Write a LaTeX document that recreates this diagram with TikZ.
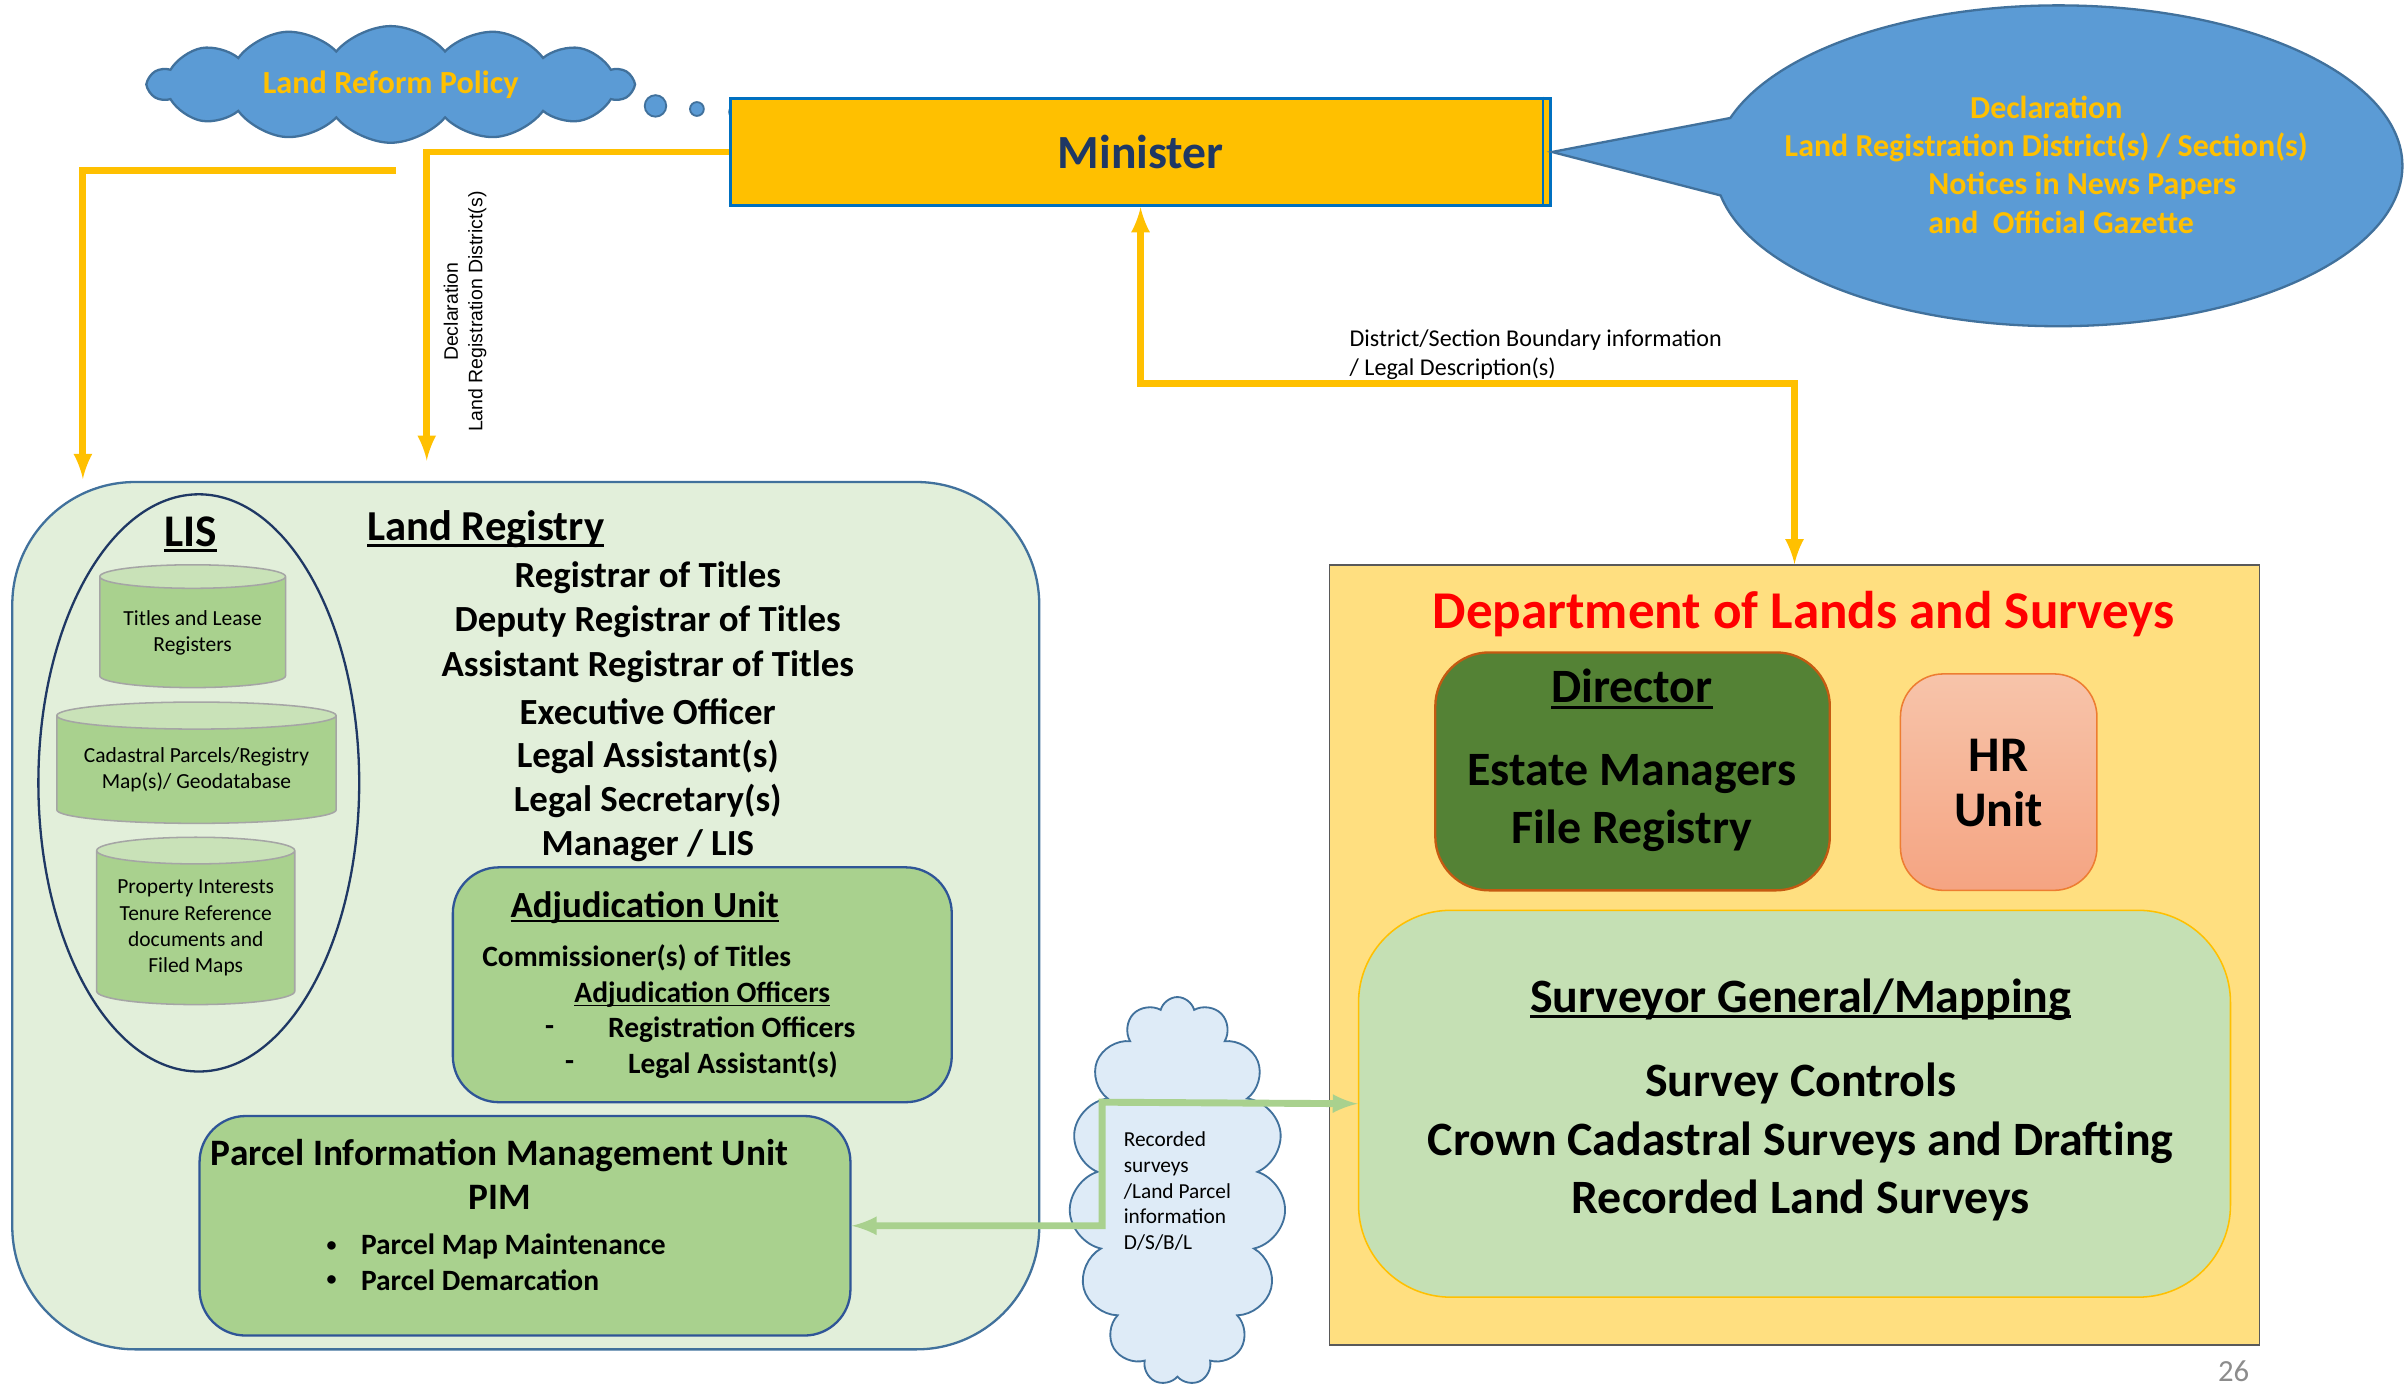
\documentclass[tikz,border=0pt]{standalone}
\usepackage{fontspec}
\setmainfont{Carlito}
\newfontfamily\rotfont{Liberation Sans}
\usetikzlibrary{arrows,shapes.geometric,shapes.symbols,shapes.callouts}

\definecolor{gold}{HTML}{FFC000}
\definecolor{cloudblue}{HTML}{5B9BD5}
\definecolor{cloudline}{HTML}{41719C}
\definecolor{navy}{HTML}{1F3864}
\definecolor{ministerline}{HTML}{0070C0}
\definecolor{lrfill}{HTML}{E2EFDA}
\definecolor{lrline}{HTML}{41719C}
\definecolor{cylbody}{HTML}{A9D18E}
\definecolor{cyltop}{HTML}{C9E2B8}
\definecolor{cylline}{HTML}{A5A5A5}
\definecolor{unitfill}{HTML}{A9D18E}
\definecolor{unitline}{HTML}{2F5597}
\definecolor{recfill}{HTML}{DEEBF7}
\definecolor{feedgreen}{HTML}{A9D18E}
\definecolor{dlsfill}{HTML}{FFDF80}
\definecolor{dlsline}{HTML}{595959}
\definecolor{dirfill}{HTML}{548235}
\definecolor{dirline}{HTML}{C55A11}
\definecolor{hrtop}{HTML}{F7C4AA}
\definecolor{hrbottom}{HTML}{F5A482}
\definecolor{hrline}{HTML}{ED7D31}
\definecolor{sgfill}{HTML}{C5E0B4}
\definecolor{pagegray}{HTML}{8C8C8C}

\newcommand{\ulined}[1]{\sbox0{#1}\rlap{\rule[-0.13em]{\wd0}{0.06em}}\usebox0}
\newcommand{\fsz}[1]{\fontsize{#1}{1.2\dimexpr#1pt\relax}\selectfont}

\begin{document}
\begin{tikzpicture}[x=1pt,y=-1pt,
  every node/.style={inner sep=0pt},
  flow/.style={draw=gold,line width=4.5pt},
  feed/.style={draw=feedgreen,line width=4.5pt},
  unit/.style={rounded corners=30pt,line width=1.5pt},
  puff/.style={circle,fill=cloudblue,draw=cloudline,line width=1.2pt},
  cyl/.style={cylinder,shape border rotate=90,draw=cylline,line width=1pt,
    cylinder uses custom fill,cylinder body fill=cylbody,cylinder end fill=cyltop,
    align=center,font=\fontsize{14}{17}\selectfont},
  calltext/.style={text=gold,font=\fsz{20.8}\bfseries},
  role/.style={font=\fsz{24}\bfseries},
  adjline/.style={font=\fsz{19.2}\bfseries},
  big/.style={font=\fontsize{31.2}{38}\selectfont\bfseries,align=center}]
\useasboundingbox (0,0) rectangle (1568,905);

\node[cloud,cloud puffs=14,cloud puff arc=100,cloud ignores aspect,minimum width=315pt,minimum height=76pt,
  fill=cloudblue,draw=cloudline,line width=1.5pt,text=gold,font=\fsz{21}\bfseries]
  (policy) at (254.5,55) {Land Reform Policy};
\node[puff,minimum width=12pt,minimum height=14pt] (dot1) at (427,69) {};
\node[puff,minimum size=9pt] (dot2) at (454,71) {};
\node[puff,minimum size=8pt] (dot3) at (479,73) {};

\node[draw=ministerline,fill=gold,line width=2pt,minimum width=534pt,minimum height=70pt,
  text=navy,font=\fsz{31}\bfseries] (minister) at (743,99) {Minister};
\draw[ministerline,line width=1pt] ([xshift=-6pt]minister.north east) -- ([xshift=-6pt]minister.south east);

\node[ellipse callout,callout absolute pointer={(minister.east)},callout pointer arc=28,
  minimum width=448pt,minimum height=209pt,fill=cloudblue,draw=cloudline,line width=1.5pt]
  (decl) at (1341,108) {};
\node[calltext] (decl1) at (1333,70) {Declaration};
\node[calltext] (decl2) at (1333,96) {Land Registration District(s) / Section(s)};
\node[calltext,anchor=west] (decl3) at (1256,121) {Notices in News Papers};
\node[calltext,anchor=west] (decl4) at (1256,145) {and\ \ Official Gazette};

\node[draw=lrline,fill=lrfill,line width=1.5pt,rounded corners=80pt,
  minimum width=669pt,minimum height=565pt] (lr) at (342.5,596.5) {};
\node[ellipse,draw=navy,line width=1.5pt,minimum width=209pt,minimum height=376pt] (lis) at (129.5,510) {};
\node[font=\fsz{29.5}\bfseries] (listitle) at (124,348) {\ulined{LIS}};
\node[cyl,aspect=0.17,minimum width=121pt,minimum height=80pt] (cyl1) at (125.5,412) {Titles and Lease\\Registers};
\node[cyl,aspect=0.12,minimum width=182pt,minimum height=79pt] (cyl2) at (128,501.5) {Cadastral Parcels/Registry\\Map(s)/ Geodatabase};
\node[cyl,aspect=0.17,minimum width=129pt,minimum height=109pt] (cyl3) at (127.5,604.5) {Property Interests\\Tenure Reference\\documents and\\Filed Maps};

\node[font=\fsz{27.8}\bfseries,anchor=west] (lrtitle) at (239,345) {\ulined{Land Registry}};
\foreach \post [count=\i] in {Registrar of Titles,Deputy Registrar of Titles,
  Assistant Registrar of Titles,Executive Officer,Legal Assistant(s),Legal Secretary(s),Manager / LIS}
  \node[role] (role\i) at (422,{346.8+29.2*\i}) {\post};

\node[unit,draw=unitline,fill=unitfill,minimum width=325pt,minimum height=153pt] (adj) at (457.5,641.5) {};
\node[font=\fsz{24}\bfseries] (adjtitle) at (420,591) {\ulined{Adjudication Unit}};
\node[adjline,anchor=west] (comm) at (314,624) {Commissioner(s) of Titles};
\node[adjline] (adjoff) at (457.5,648) {\ulined{Adjudication Officers}};
\node[adjline] (dash1) at (358,671) {-};
\node[adjline,anchor=west] (regoff) at (396,671) {Registration Officers};
\node[adjline] (dash2) at (371,694) {-};
\node[adjline,anchor=west] (legass) at (409,694) {Legal Assistant(s)};

\node[unit,draw=unitline,fill=unitfill,minimum width=424pt,minimum height=143pt] (pim) at (342,798.5) {};
\node[font=\fontsize{24.3}{29}\selectfont\bfseries,align=center] (pimtitle) at (325.5,765) {Parcel Information Management Unit\\PIM};
\node[font=\fsz{13}\bfseries] (bul1) at (216,812) {\textbullet};
\node[font=\fsz{19.2}\bfseries,anchor=west] (pimjob1) at (235,812) {Parcel Map Maintenance};
\node[font=\fsz{13}\bfseries] (bul2) at (216,834) {\textbullet};
\node[font=\fsz{19.2}\bfseries,anchor=west] (pimjob2) at (235,834) {Parcel Demarcation};

\node[cloud,cloud puffs=15,cloud ignores aspect,minimum width=141pt,minimum height=253pt,
  fill=recfill,draw=cloudline,line width=1.2pt,align=left,font=\fontsize{13.9}{16.8}\selectfont]
  (rec) at (767,776) {Recorded\\surveys\\/Land Parcel\\information\\D/S/B/L};

\node[draw=dlsline,fill=dlsfill,line width=1pt,minimum width=606pt,minimum height=508pt] (dls) at (1169,622) {};
\node[text=red,font=\fsz{34.6}\bfseries] (dlstitle) at (1175,400) {Department of Lands and Surveys};

\node[unit,rounded corners=35pt,draw=dirline,fill=dirfill,minimum width=257pt,minimum height=155pt] (dir) at (1063.5,502.5) {};
\node[big] (dirtitle) at (1063,449) {\ulined{Director}};
\node[big] (dirstaff) at (1063,523) {Estate Managers\\File Registry};

\node[unit,rounded corners=28pt,draw=hrline,line width=1pt,top color=hrtop,bottom color=hrbottom,
  minimum width=128pt,minimum height=141pt] (hr) at (1302,509.5) {};
\node[big,font=\fontsize{32.5}{36}\selectfont\bfseries] (hrlabel) at (1302,510) {HR\\Unit};

\node[unit,rounded corners=60pt,draw=gold,line width=1pt,fill=sgfill,minimum width=568pt,minimum height=252pt] (sg) at (1169,719) {};
\node[big] (sgtitle) at (1173,651) {\ulined{Surveyor General/Mapping}};
\node[big] (sgwork) at (1173,744) {Survey Controls\\Crown Cadastral Surveys and Drafting\\Recorded Land Surveys};

\coordinate (policyfoot) at (258,111);
\coordinate (lrdrop1) at (54,312);
\coordinate (lrdrop2) at (278,300);
\draw[flow,-latex] (policyfoot) -| (lrdrop1);
\draw[flow,-latex] (minister.west) -| (lrdrop2);
\node[rotate=90,align=center,font=\rotfont\fontsize{12.7}{16}\selectfont] (decllabel) at (303,203) {Declaration\\Land Registration District(s)};

\draw[flow,latex-latex] (minister.south) -- ++(0,115) -| (dls.north);
\node[anchor=west,align=left,font=\fontsize{15.7}{19}\selectfont] (boundlabel) at (879,231) {District/Section Boundary information\\/ Legal Description(s)};

\coordinate (jog) at (718,718);
\draw[feed,latex-latex] (pim.east) -| (jog) -- (sg.west);

\node[text=pagegray,font=\fsz{20}] (pageno) at (1455,893) {26};
\end{tikzpicture}
\end{document}
